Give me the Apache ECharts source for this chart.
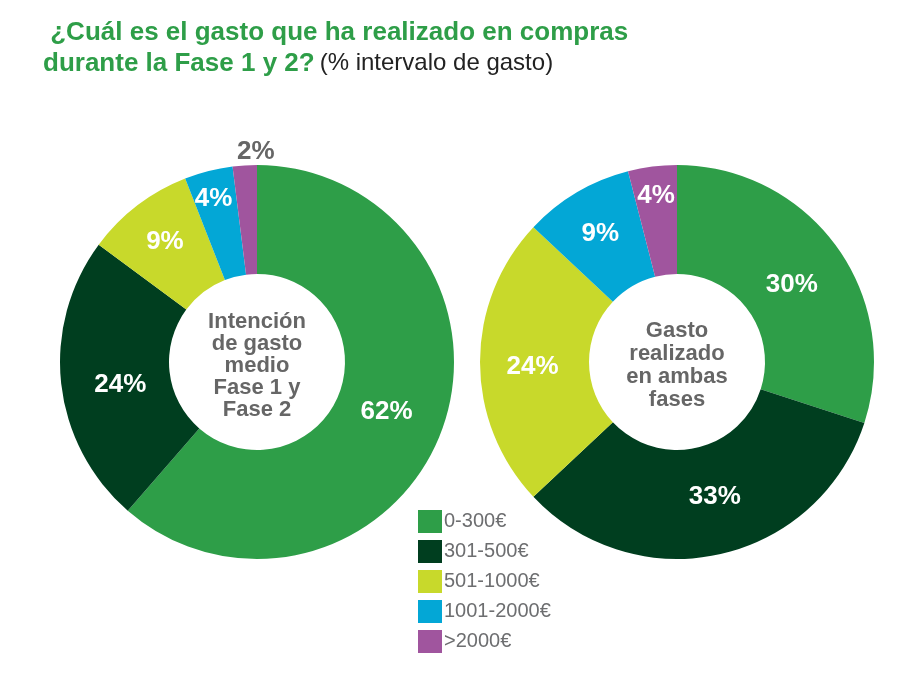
<!DOCTYPE html>
<html>
<head>
<meta charset="utf-8">
<title>gasto</title>
<script src="https://cdn.jsdelivr.net/npm/echarts@6/dist/echarts.min.js"></script>
<style>
  html, body { margin: 0; padding: 0; background: #fff; }
  #x { width: 899px; height: 687px; }
</style>
</head>
<body>
<div id="x"></div>
<script type="text/javascript">
// tramos de gasto
var tramos = ['0-300€', '301-500€', '501-1000€', '1001-2000€', '>2000€'];
var colores = ['#2e9e48', '#003e1f', '#c8d92b', '#03a7d6', '#a0559e'];
// intención de gasto medio (fase 1 y 2)
var intencion = [62, 24, 9, 4, 2];
// gasto realizado en ambas fases
var realizado = [30, 33, 24, 9, 4];

// centros de los donuts
var centros = [[257, 362], [677, 362]];
// ajuste de las etiquetas [radial, dx, dy]
var empuje = [
	[[-4, -3, 0], [-3, 5, 7], [6, 0, 0], [23, -2, 0], [65, 12, 0]],
	[[-6, 2, 5], [-4, 7, -3], [4, 5, 5], [5, 0, 1], [22, 0, 0]]
];

function pieData(vals, grisIdx) {
	var out = [];
	for (var i = 0; i < vals.length; i++) {
		var d = { name: tramos[i], value: vals[i], itemStyle: { color: colores[i] } };
		if (i === grisIdx) {
			d.label = { color: '#666' };
		}
		out.push(d);
	}
	return out;
}

var labelStyle = {
	show: true,
	position: 'inside',
	formatter: '{c}%',
	color: '#fff',
	fontSize: 26,
	fontWeight: 'bold',
	fontFamily: 'Liberation Sans, Arial, sans-serif'
};

function moverEtiqueta(params) {
	var c = centros[params.seriesIndex];
	var p = empuje[params.seriesIndex][params.dataIndex];
	var r = params.labelRect;
	var lx = r.x + r.width / 2 - c[0];
	var ly = r.y + r.height / 2 - c[1];
	var len = Math.sqrt(lx * lx + ly * ly) || 1;
	return { dx: lx / len * p[0] + p[1], dy: ly / len * p[0] + p[2] };
}

var centerFont = 'bold 22px "Liberation Sans", Arial, sans-serif';

var option = {
	backgroundColor: '#fff',
	animation: false,
	title: {
		left: 38,
		top: 12,
		text: '{a| ¿Cuál es el gasto que ha realizado en compras}\n{a|durante la Fase 1 y 2?} {b|(% intervalo de gasto)}',
		textStyle: {
			rich: {
				a: { fontSize: 26, fontWeight: 'bold', color: '#2e9e48', fontFamily: 'Liberation Sans', lineHeight: 31 },
				b: { fontSize: 24, fontWeight: 'normal', color: '#222', fontFamily: 'Liberation Sans', lineHeight: 31 }
			}
		}
	},
	legend: {
		orient: 'vertical',
		left: 418,
		top: 510,
		padding: 0,
		icon: 'rect',
		itemWidth: 24,
		itemHeight: 23,
		itemGap: 7,
		data: tramos,
		textStyle: { fontSize: 20, color: '#6d6e70', fontFamily: 'Liberation Sans', padding: [0, 0, 0, -3] }
	},
	graphic: [
		{ type: 'text', x: centros[0][0], y: 366, z: 10,
		  style: { text: 'Intención\nde gasto\nmedio\nFase 1 y\nFase 2', textAlign: 'center', textVerticalAlign: 'middle', fill: '#666', font: centerFont, lineHeight: 22 } },
		{ type: 'text', x: centros[1][0], y: 365, z: 10,
		  style: { text: 'Gasto\nrealizado\nen ambas\nfases', textAlign: 'center', textVerticalAlign: 'middle', fill: '#666', font: centerFont, lineHeight: 23 } }
	],
	series: [
		{
			type: 'pie',
			center: centros[0],
			radius: [88, 197],
			startAngle: 90,
			clockwise: true,
			label: labelStyle,
			labelLayout: moverEtiqueta,
			emphasis: { disabled: true },
			data: pieData(intencion, 4)
		},
		{
			type: 'pie',
			center: centros[1],
			radius: [88, 197],
			startAngle: 90,
			clockwise: true,
			label: labelStyle,
			labelLayout: moverEtiqueta,
			emphasis: { disabled: true },
			data: pieData(realizado, -1)
		}
	]
};

var mychart = echarts.init(document.getElementById('x'));
mychart.setOption(option);
</script>
</body>
</html>
